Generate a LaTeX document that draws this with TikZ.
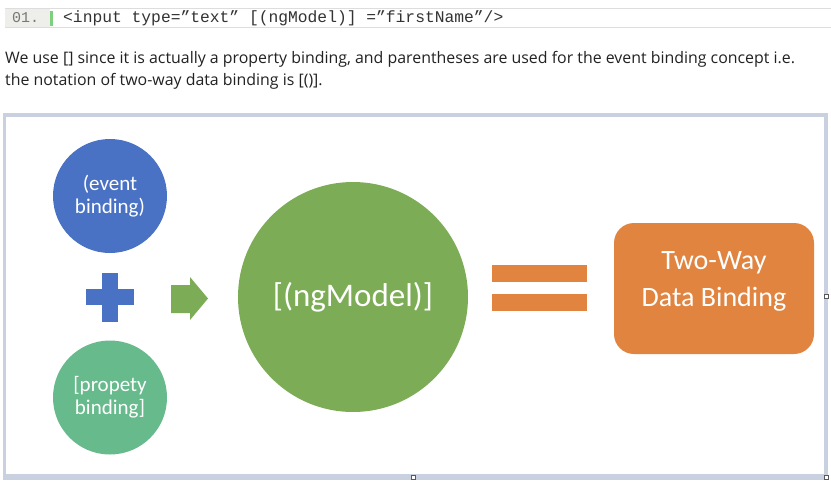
\documentclass[tikz,border=0pt]{standalone}
\usepackage{fontspec}
\setmainfont{Open Sans}
\newfontfamily\diafont{Carlito}
\newfontfamily\codefont{Liberation Mono}
\definecolor{evblue}{HTML}{4A72C4}
\definecolor{ngreen}{HTML}{7CAC55}
\definecolor{pteal}{HTML}{67BA8C}
\definecolor{orng}{HTML}{E0843F}
\definecolor{framec}{HTML}{C9D1E1}
\definecolor{gutter}{HTML}{EEEEEA}
\definecolor{codeline}{HTML}{DDDDDD}
\definecolor{codegreen}{HTML}{7ED07E}
\definecolor{txt}{HTML}{222222}
\definecolor{ctxt}{HTML}{333333}
\definecolor{lnum}{HTML}{777777}
\begin{document}
\begin{tikzpicture}[x=1pt,y=-1pt,
  bubble/.style={circle,inner sep=0pt,text=white,align=center,font=\diafont\fontsize{21}{23}\selectfont},
  handle/.style={draw=gray!70!black,fill=white,line width=0.5pt,minimum size=4pt,inner sep=0pt},
  para/.style={anchor=base west,inner sep=0pt,text=txt,font=\fontsize{15.9}{18}\selectfont}]
\useasboundingbox (0,0) rectangle (831,485);
\fill[white] (0,0) rectangle (831,485);
% code bar
\fill[gutter] (5,9) rectangle (50,27);
\draw[codeline,line width=0.8pt] (5,8.5) -- (831,8.5);
\draw[codeline,line width=0.8pt] (5,27.5) -- (831,27.5);
\fill[codegreen] (49.5,10.5) rectangle (52.5,25.5);
\node[anchor=base west,inner sep=0pt,text=lnum,font=\codefont\fontsize{15}{17}\selectfont] (lnum) at (12,22.5) {01.};
\node[anchor=base west,inner sep=0pt,text=ctxt,font=\codefont\fontsize{16.3}{18}\selectfont] (code) at (63,22.5) {<input type=”text” [(ngModel)] =”firstName”/>};
% paragraph
\node[para] (p1) at (5,63) {We use [] since it is actually a property binding, and parentheses are used for the event binding concept i.e.};
\node[para] (p2) at (5,85) {the notation of two-way data binding is [()].};
% frame
\fill[framec] (3,113) rectangle (828,480);
\fill[white] (6,116.5) rectangle (823.5,473.5);
\node[handle] (h1) at (413.5,477) {};
\node[handle] (h2) at (826,477) {};
\node[handle] (h3) at (826,296) {};
% diagram
\node[bubble,fill=evblue,minimum size=114pt] (ev) at (110,196) {(event\\binding)};
\node[bubble,fill=pteal,minimum size=114pt] (pr) at (110,397.5) {[propety\\binding]};
\fill[evblue] (102,273) rectangle (118,322);
\fill[evblue] (86,289) rectangle (134,305);
\coordinate (plus) at (110,297);
\fill[ngreen] (171,285) -- (190,285) -- (190,277) -- (208,298.5) -- (190,320) -- (190,313) -- (171,313) -- cycle;
\node[bubble,fill=ngreen,minimum size=230pt,font=\diafont\fontsize{33}{36}\selectfont] (ng) at (353,297) {[(ngModel)]};
\fill[orng] (492,265) rectangle (587,282);
\fill[orng] (492,294) rectangle (587,311);
\fill[orng,rounded corners=20pt] (614,223) rectangle (814,354);
\node[inner sep=0pt,text=white,align=center,font=\diafont\fontsize{28}{37}\selectfont] (tw) at (714,281) {Two-Way\\Data Binding};
\end{tikzpicture}
\end{document}
